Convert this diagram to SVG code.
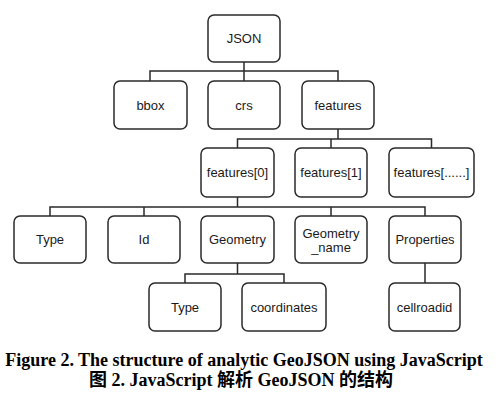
<svg xmlns="http://www.w3.org/2000/svg" width="498" height="408" viewBox="0 0 498 408">
<style>
.box{fill:#fff;stroke:#2a2a2a;stroke-width:1.5}
.lbl{font-family:"Liberation Sans",Arial,sans-serif;font-size:13px;fill:#1a1a1a;text-anchor:middle;dominant-baseline:central}
.conn{fill:none;stroke:#2a2a2a;stroke-width:1.5}
.cap{font-family:"Liberation Serif","Times New Roman","Noto Sans CJK SC",serif;font-weight:bold;font-size:18px;fill:#000;text-anchor:middle}
</style>
<rect width="498" height="408" fill="#fff"/>
<g id="connectors">
<path class="conn" d="M244,62V71M150,81V71H338V81M244,71V81"/>
<path class="conn" d="M338,129V139M237.5,148V139H431.5V148M331,139V148"/>
<path class="conn" d="M237.5,197V207M50,216V207H425V216M144,207V216M331,207V216"/>
<path class="conn" d="M237.5,263V274M185,283V274H284V283"/>
<path class="conn" d="M425,263V283"/>
</g>
<g id="n-json"><rect class="box" x="208" y="15" width="72" height="47" rx="6"/><text class="lbl" x="244" y="38.5">JSON</text></g>
<g id="n-bbox"><rect class="box" x="114" y="81" width="73" height="48" rx="6"/><text class="lbl" x="150.5" y="105">bbox</text></g>
<g id="n-crs"><rect class="box" x="208" y="81" width="72" height="48" rx="6"/><text class="lbl" x="244" y="105">crs</text></g>
<g id="n-features"><rect class="box" x="302" y="81" width="72" height="48" rx="6"/><text class="lbl" x="338" y="105">features</text></g>
<g id="n-f0"><rect class="box" x="201" y="148" width="73" height="49" rx="6"/><text class="lbl" x="237.5" y="172.5">features[0]</text></g>
<g id="n-f1"><rect class="box" x="295" y="148" width="72" height="49" rx="6"/><text class="lbl" x="331" y="172.5">features[1]</text></g>
<g id="n-fn"><rect class="box" x="389" y="148" width="85" height="49" rx="6"/><text class="lbl" x="431.5" y="172.5">features[......]</text></g>
<g id="n-type"><rect class="box" x="14" y="216" width="72" height="47" rx="6"/><text class="lbl" x="50" y="239.5">Type</text></g>
<g id="n-id"><rect class="box" x="108" y="216" width="72" height="47" rx="6"/><text class="lbl" x="144" y="239.5">Id</text></g>
<g id="n-geometry"><rect class="box" x="201" y="216" width="73" height="47" rx="6"/><text class="lbl" x="237.5" y="239.5">Geometry</text></g>
<g id="n-geomname"><rect class="box" x="295" y="216" width="72" height="47" rx="6"/><text class="lbl" x="331" y="233">Geometry</text><text class="lbl" x="331" y="247">_name</text></g>
<g id="n-properties"><rect class="box" x="389" y="216" width="72" height="47" rx="6"/><text class="lbl" x="425" y="239.5">Properties</text></g>
<g id="n-gtype"><rect class="box" x="149" y="283" width="72" height="48" rx="6"/><text class="lbl" x="185" y="307">Type</text></g>
<g id="n-coords"><rect class="box" x="242" y="283" width="84" height="48" rx="6"/><text class="lbl" x="284" y="307">coordinates</text></g>
<g id="n-cellroadid"><rect class="box" x="389" y="283" width="71" height="48" rx="6"/><text class="lbl" x="424.5" y="307">cellroadid</text></g>
<text class="cap" x="244" y="366">Figure 2. The structure of analytic GeoJSON using JavaScript</text>
<text class="cap" x="241" y="386">图 2. JavaScript 解析 GeoJSON 的结构</text>
</svg>
